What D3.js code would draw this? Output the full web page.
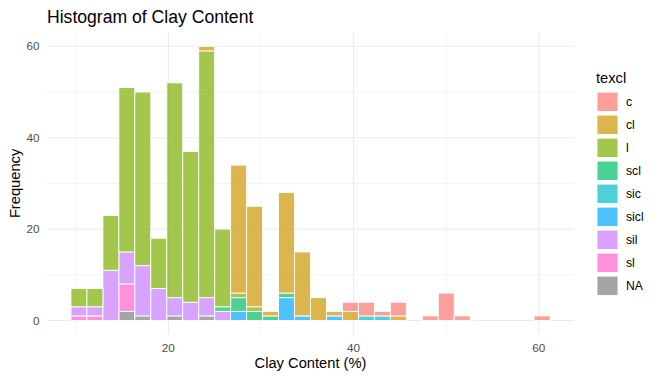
<!DOCTYPE html>
<html><head><meta charset="utf-8">
<script src="https://cdn.jsdelivr.net/npm/d3@7"></script>
<style>body{margin:0;background:#fff}svg{display:block}text{font-family:"Liberation Sans",Arial,sans-serif}</style>
</head><body><svg id="c" width="660" height="379"></svg>
<script>
// ---- data ----
const classes = ["c","cl","l","scl","sic","sicl","sil","sl","NA"];
const colors  = ["#F8766D","#CD9600","#7CAE00","#00BE67","#00BFC4","#00A9FF","#C77CFF","#FF61CC","#7F7F7F"];
const binStart = 9.4828, binWidth = 1.7241, nBins = 30;
// counts per bin (30 bins) for each texture class
const cnt_c    = [0,0,0,0,0,0,0,0,0,0, 0,0,0,0,0,0,0,2,3,1, 3,0,1,6,1,0,0,0,0,1];
const cnt_cl   = [0,0,0,0,0,0,0,0,1,0, 28,22,1,22,14,5,1,2,0,0, 1,0,0,0,0,0,0,0,0,0];
const cnt_l    = [4,4,12,36,38,11,47,33,54,17, 1,1,0,0,0,0,0,0,0,0, 0,0,0,0,0,0,0,0,0,0];
const cnt_scl  = [0,0,0,0,0,0,0,0,0,1, 3,2,1,1,0,0,0,0,0,0, 0,0,0,0,0,0,0,0,0,0];
const cnt_sic  = [0,0,0,0,0,0,0,0,0,0, 0,0,0,0,0,0,0,0,1,1, 0,0,0,0,0,0,0,0,0,0];
const cnt_sicl = [0,0,0,0,0,0,0,0,0,0, 2,0,0,5,1,0,1,0,0,0, 0,0,0,0,0,0,0,0,0,0];
const cnt_sil  = [2,2,11,7,11,7,4,4,4,2, 0,0,0,0,0,0,0,0,0,0, 0,0,0,0,0,0,0,0,0,0];
const cnt_sl   = [1,1,0,6,0,0,0,0,0,0, 0,0,0,0,0,0,0,0,0,0, 0,0,0,0,0,0,0,0,0,0];
const cnt_NA   = [0,0,0,2,1,0,1,0,1,0, 0,0,0,0,0,0,0,0,0,0, 0,0,0,0,0,0,0,0,0,0];
const xTicks = [20,40,60], xMinor = [10,30,50];
const yTicks = [0,20,40,60], yMinor = [10,30,50];

const counts = {c:cnt_c, cl:cnt_cl, l:cnt_l, scl:cnt_scl, sic:cnt_sic, sicl:cnt_sicl, sil:cnt_sil, sl:cnt_sl, NA:cnt_NA};
const rows = d3.range(nBins).map(i => {
  const r = {x0: binStart + i*binWidth, x1: binStart + (i+1)*binWidth};
  classes.forEach(k => r[k] = counts[k][i]);
  return r;
});
// stack: NA at bottom, c on top
const stackOrder = classes.slice().reverse();
const series = d3.stack().keys(stackOrder)(rows);
const maxY = d3.max(rows, r => d3.sum(classes, k => r[k]));

const svg = d3.select("#c");
const L = 47, R = 574, T = 32.6, B = 334.2;
const xr = [binStart, binStart + nBins*binWidth], xpad = (xr[1]-xr[0])*0.05;
const x = d3.scaleLinear().domain([xr[0]-xpad, xr[1]+xpad]).range([L, R]);
const y = d3.scaleLinear().domain([-maxY*0.05, maxY*1.05]).range([B, T]);
const color = d3.scaleOrdinal().domain(classes).range(colors);

const g = svg.append("g");
// grid
xMinor.forEach(v => g.append("line").attr("x1",x(v)).attr("x2",x(v)).attr("y1",T).attr("y2",B).attr("stroke","#EBEBEB").attr("stroke-width",0.55));
yMinor.forEach(v => g.append("line").attr("y1",y(v)).attr("y2",y(v)).attr("x1",L).attr("x2",R).attr("stroke","#EBEBEB").attr("stroke-width",0.55));
xTicks.forEach(v => g.append("line").attr("x1",x(v)).attr("x2",x(v)).attr("y1",T).attr("y2",B).attr("stroke","#EBEBEB").attr("stroke-width",1.1));
yTicks.forEach(v => g.append("line").attr("y1",y(v)).attr("y2",y(v)).attr("x1",L).attr("x2",R).attr("stroke","#EBEBEB").attr("stroke-width",1.1));

// bars
series.forEach(s => {
  g.append("g").selectAll("rect").data(s.filter(d => d[1] > d[0])).join("rect")
    .attr("x", d => x(d.data.x0)).attr("width", d => x(d.data.x1) - x(d.data.x0))
    .attr("y", d => y(d[1])).attr("height", d => y(d[0]) - y(d[1]))
    .attr("fill", color(s.key)).attr("fill-opacity", 0.7)
    .attr("stroke", "#fff").attr("stroke-width", 0.9);
});

// axis labels
const ax = svg.append("g").attr("fill","#4D4D4D").attr("font-size","11.7px");
yTicks.forEach(v => ax.append("text").attr("x",39.5).attr("y",y(v)).attr("dy","0.35em").attr("text-anchor","end").text(v));
xTicks.forEach(v => ax.append("text").attr("x",x(v)).attr("y",352).attr("text-anchor","middle").text(v));

svg.append("text").attr("x",(L+R)/2).attr("y",367.5).attr("text-anchor","middle").attr("font-size","14.7px").text("Clay Content (%)");
svg.append("text").attr("transform",`translate(19.5,${(T+B)/2}) rotate(-90)`).attr("text-anchor","middle").attr("font-size","14.7px").text("Frequency");
svg.append("text").attr("x",47).attr("y",22.7).attr("font-size","17.6px").text("Histogram of Clay Content");

// legend
const lg = svg.append("g");
lg.append("text").attr("x",596).attr("y",83).attr("font-size","14.7px").text("texcl");
classes.forEach((k,i) => {
  const cy = 101.8 + i*23;
  lg.append("rect").attr("x",597).attr("y",cy-9.7).attr("width",21).attr("height",19.4)
    .attr("fill",color(k)).attr("fill-opacity",0.7).attr("stroke","#fff").attr("stroke-width",0.9);
  lg.append("text").attr("x",626).attr("y",cy).attr("dy","0.35em").attr("font-size","12.2px").text(k);
});
</script></body></html>
